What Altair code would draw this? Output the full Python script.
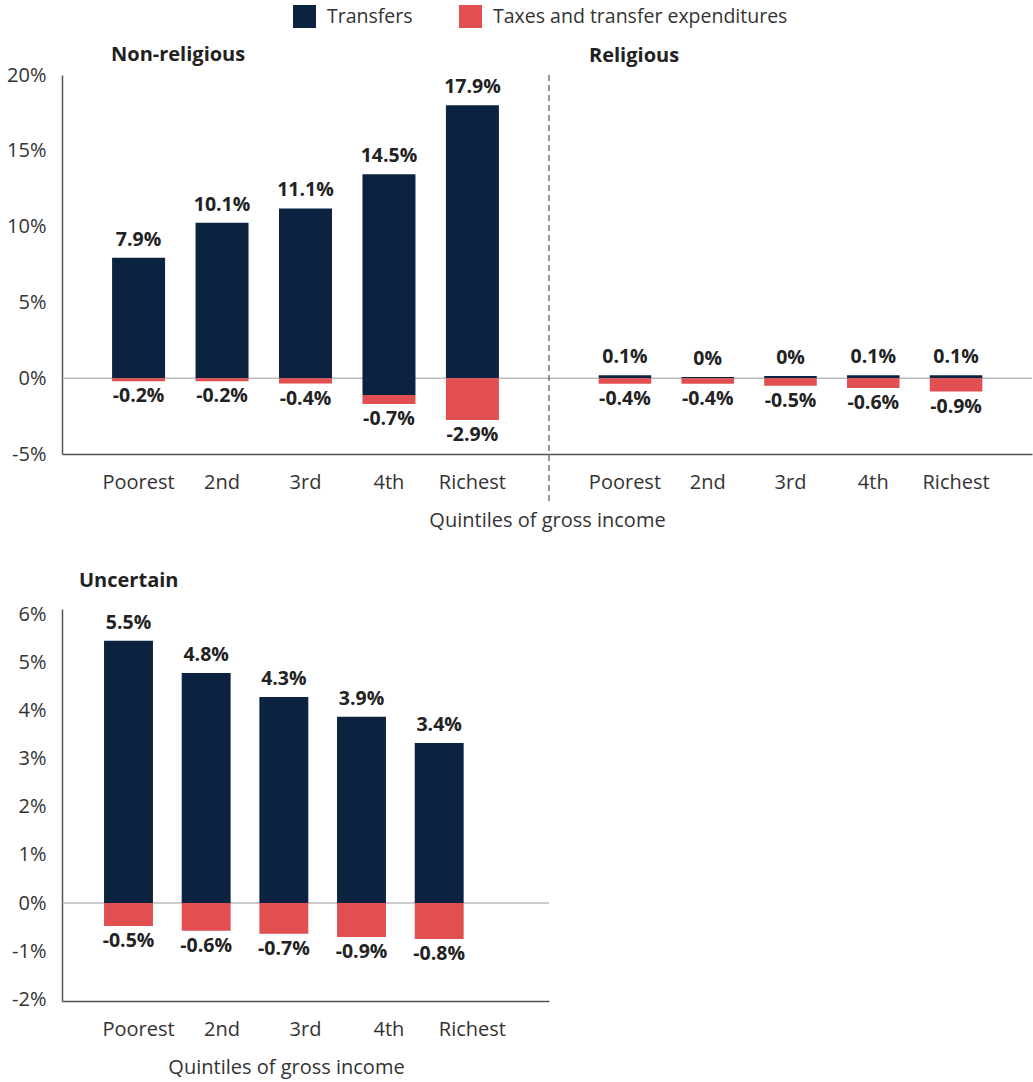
import altair as alt
import pandas as pd

FONT = "Open Sans"
NAVY = "#0b2341"
RED = "#e24f50"

quintiles = ["Poorest", "2nd", "3rd", "4th", "Richest"]
series_names = ["Transfers", "Taxes and transfer expenditures"]

# Non-religious
nonrel_base = [0, 0, 0, -1.1, 0]
nonrel_transfers = [7.95, 10.25, 11.2, 14.55, 18.0]
nonrel_taxes = [-0.2, -0.2, -0.35, -0.6, -2.75]
nonrel_top_labels = ["7.9%", "10.1%", "11.1%", "14.5%", "17.9%"]
nonrel_bottom_labels = ["-0.2%", "-0.2%", "-0.4%", "-0.7%", "-2.9%"]

# Religious
rel_base = [0, 0, 0, 0, 0]
rel_transfers = [0.2, 0.08, 0.15, 0.2, 0.2]
rel_taxes = [-0.37, -0.37, -0.5, -0.64, -0.88]
rel_top_labels = ["0.1%", "0%", "0%", "0.1%", "0.1%"]
rel_bottom_labels = ["-0.4%", "-0.4%", "-0.5%", "-0.6%", "-0.9%"]

# Uncertain
unc_base = [0, 0, 0, 0, 0]
unc_transfers = [5.46, 4.79, 4.29, 3.875, 3.33]
unc_taxes = [-0.48, -0.58, -0.64, -0.71, -0.75]
unc_top_labels = ["5.5%", "4.8%", "4.3%", "3.9%", "3.4%"]
unc_bottom_labels = ["-0.5%", "-0.6%", "-0.7%", "-0.9%", "-0.8%"]

top_ticks = [-5, 0, 5, 10, 15, 20]
bottom_ticks = [-2, -1, 0, 1, 2, 3, 4, 5, 6]
x_title = "Quintiles of gross income"

AXIS_FS = 20
VAL_FS = 19.5
TITLE_FS = 20

color_scale = alt.Scale(domain=series_names, range=[NAVY, RED])
legend = alt.Legend(
    title=None, orient="none", direction="horizontal", legendX=231, legendY=-70,
    symbolType="square", symbolSize=529, symbolStrokeWidth=0, symbolOpacity=1,
    labelFont=FONT, labelFontSize=19.5, labelColor="#333", columnPadding=46,
    labelOffset=11, labelLimit=500,
)


def panel(base, transfers, taxes, top_labels, bottom_labels, title, title_dx,
          title_offset, width, height, ydomain, yticks, show_y, xscale, xaxis,
          separator=False, axis_scale=None):
    rows = []
    for q, b, t, x in zip(quintiles, base, transfers, taxes):
        rows.append({"q": q, "series": series_names[0], "y0": b, "y1": b + t})
        rows.append({"q": q, "series": series_names[1], "y0": b, "y1": b + x})
    bars_df = pd.DataFrame(rows)
    lab_df = pd.DataFrame({
        "q": quintiles,
        "top": [b + t for b, t in zip(base, transfers)],
        "bottom": [b + x for b, x in zip(base, taxes)],
        "toplab": top_labels,
        "botlab": bottom_labels,
    })
    yscale = alt.Scale(domain=ydomain, nice=False, zero=False)
    if show_y:
        yaxis = alt.Axis(values=yticks, labelExpr="datum.value + '%'", title=None,
                         grid=False, ticks=False, domainColor="#555", domainWidth=1.5,
                         labelFont=FONT, labelFontSize=AXIS_FS, labelColor="#333",
                         labelPadding=16, orient="left")
    else:
        yaxis = None
    bar_axis = None if axis_scale is not None else xaxis
    x = alt.X("q:N", sort=quintiles, scale=xscale, axis=bar_axis)

    zero_df = pd.DataFrame({"z": [0]})
    zero = alt.Chart(zero_df).mark_rule(color="#9a9a9a", strokeWidth=1).encode(
        y=alt.Y("z:Q", scale=yscale, axis=yaxis))
    bars = alt.Chart(bars_df).mark_bar().encode(
        x=x,
        y=alt.Y("y1:Q", scale=yscale, axis=yaxis),
        y2="y0:Q",
        color=alt.Color("series:N", scale=color_scale, legend=legend),
    )
    tfont = dict(font=FONT, fontSize=VAL_FS, fontWeight="bold", color="#222")
    toptext = alt.Chart(lab_df).mark_text(baseline="bottom", dy=-8, **tfont).encode(
        x=alt.X("q:N", sort=quintiles), y=alt.Y("top:Q"), text="toplab:N")
    bottext = alt.Chart(lab_df).mark_text(baseline="top", dy=6, **tfont).encode(
        x=alt.X("q:N", sort=quintiles), y=alt.Y("bottom:Q"), text="botlab:N")
    layers = [zero, bars, toptext, bottext]
    if separator:
        sep = alt.Chart(zero_df).mark_rule(
            color="#333", strokeWidth=1, strokeDash=[6, 4]).encode(
            x=alt.value(0), y=alt.value(0), y2=alt.value(height + 48))
        layers.append(sep)
    body = alt.layer(*layers)
    if axis_scale is not None:
        axis_layer = alt.Chart(lab_df).mark_point(opacity=0).encode(
            x=alt.X("q:N", sort=quintiles, scale=axis_scale, axis=xaxis),
            y=alt.Y("top:Q"),
        )
        body = alt.layer(body, axis_layer).resolve_scale(x="independent")
    return body.properties(
        width=width, height=height,
        view=alt.ViewBackground(stroke="transparent", strokeWidth=0),
        title=alt.TitleParams(title, anchor="start", frame="group", dx=title_dx,
                              offset=title_offset, font=FONT, fontSize=TITLE_FS,
                              fontWeight="bold", color="#222"),
    )


def xaxis_with(title=None, title_x=None):
    kw = dict(orient="bottom", labelAngle=0, ticks=False, domainColor="#555",
              domainWidth=1.5, labelFont=FONT, labelFontSize=AXIS_FS,
              labelColor="#333", labelPadding=18)
    if title:
        kw.update(title=title, titleX=title_x, titleY=66, titleAlign="center",
                  titleBaseline="middle", titleFont=FONT, titleFontSize=AXIS_FS,
                  titleFontWeight="normal", titleColor="#333")
    else:
        kw.update(title=None)
    return alt.Axis(**kw)


def top_scale():
    return alt.Scale(type="band", paddingInner=0.365, paddingOuter=0.6)


left = panel(nonrel_base, nonrel_transfers, nonrel_taxes, nonrel_top_labels,
             nonrel_bottom_labels, "Non-religious", 49, 0, 487, 379, [-5, 20],
             top_ticks, True, top_scale(), xaxis_with(x_title, 485))
right = panel(rel_base, rel_transfers, rel_taxes, rel_top_labels, rel_bottom_labels,
              "Religious", 40, 9, 483, 379, [-5, 20], top_ticks, False, top_scale(),
              xaxis_with(), separator=True)
bottom_scale = alt.Scale(type="band", paddingInner=0.37, paddingOuter=0.82, align=0.33)
bottom = panel(unc_base, unc_transfers, unc_taxes, unc_top_labels, unc_bottom_labels,
               "Uncertain", 17, 14, 487, 392, [-2.04, 6.12], bottom_ticks, True,
               bottom_scale, xaxis_with(x_title, 224), axis_scale=top_scale())

top = alt.hconcat(left, right, spacing=0, bounds="flush")
chart = alt.vconcat(top, bottom, spacing=40).properties(
    padding={"left": 6, "top": 5, "right": 0, "bottom": 5}
).configure_view(stroke="transparent", strokeWidth=0).configure(background="white")

chart.save("out.html", embed_options={"renderer": "svg", "actions": False})
